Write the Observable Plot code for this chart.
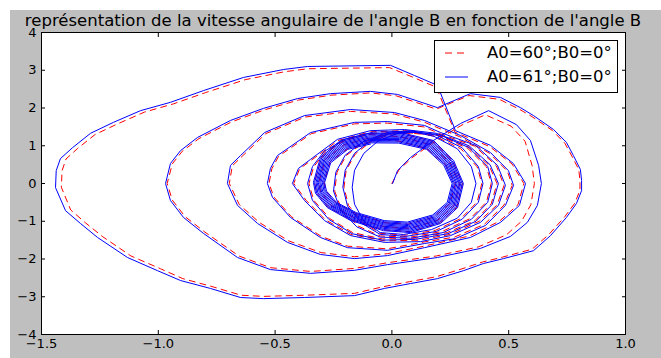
<!DOCTYPE html>
<html><head><meta charset="utf-8">
<script src="https://cdn.jsdelivr.net/npm/d3@7"></script>
<script src="https://cdn.jsdelivr.net/npm/@observablehq/plot@0.6"></script>
<style>
body{margin:0;background:#fff;}
#wrap{position:relative;width:661px;height:358px;background:#fff;overflow:hidden;font-family:"DejaVu Sans",sans-serif;}
#bg{position:absolute;left:10px;top:10px;right:0;bottom:0;background:#bfbfbf;}
#chart{position:absolute;left:0;top:0;}
#title{position:absolute;left:0;width:666px;top:13px;text-align:center;font-size:16.5px;line-height:16.5px;color:#000;white-space:nowrap;}
#legend{position:absolute;left:434px;top:40px;width:184px;height:53px;box-sizing:border-box;border:1px solid #000;background:#fff;}
.lt{position:absolute;left:52px;font-size:16.5px;line-height:16.5px;white-space:nowrap;color:#000;}
.ls{position:absolute;left:10px;}
</style>
</head><body>
<div id="wrap"><div id="bg"></div><div id="chart"></div>
<div id="title"></div>
<div id="legend"></div></div>
<script>
const titleText = "représentation de la vitesse angulaire de l'angle B en fonction de l'angle B";
const seriesNames = ["A0=60°;B0=0°", "A0=61°;B0=0°"];
const xTicks = [-1.5, -1.0, -0.5, 0, 0.5, 1.0];
const xTickLabels = ["−1.5", "−1.0", "−0.5", "0.0", "0.5", "1.0"];
const yTicks = [-4, -3, -2, -1, 0, 1, 2, 3, 4];
const yTickLabels = ["−4", "−3", "−2", "−1", "0", "1", "2", "3", "4"];

// ---- A0=61° (blue, solid) ----
const blueStart = [[0.003,0],[0.024,0.34],[0.08,0.69],[0.178,1.14],[0.294,1.59],[0.414,1.93]];
const blueL2 = [[0.533,1.56],[0.593,1.14],[0.628,0.48],[0.64,0],[0.623,-0.58],[0.58,-1.03],[0.508,-1.40],[0.379,-1.72],[0.195,-1.96],[-0.019,-2.15],[-0.16,-2.30],[-0.348,-2.38],[-0.52,-2.28],[-0.661,-1.96],[-0.807,-1.32],[-0.892,-0.90],[-0.948,-0.45],[-0.969,0],[-0.948,0.53],[-0.905,0.87],[-0.832,1.22],[-0.691,1.67],[-0.55,1.99],[-0.404,2.25],[-0.263,2.38],[-0.092,2.44],[0.024,2.36],[0.195,2.01]];
const blueL1 = [[0.336,2.38],[0.465,2.28],[0.55,2.01],[0.606,1.80],[0.692,1.43],[0.747,1.09],[0.777,0.74],[0.807,0.37],[0.812,0.08],[0.812,-0.19],[0.79,-0.53],[0.747,-0.90],[0.679,-1.38],[0.606,-1.78],[0.478,-1.99],[0.392,-2.12],[0.306,-2.31],[0.195,-2.52],[0.08,-2.65],[-0.032,-2.78],[-0.16,-2.97],[-0.374,-3.02],[-0.55,-3.05],[-0.648,-3.02],[-0.777,-2.78],[-0.905,-2.57],[-1.003,-2.31],[-1.132,-1.96],[-1.26,-1.43],[-1.333,-1.06],[-1.397,-0.72],[-1.44,-0.11],[-1.437,0.34],[-1.419,0.66],[-1.367,0.95],[-1.29,1.33],[-1.192,1.62],[-1.076,1.93],[-0.948,2.15],[-0.807,2.46],[-0.635,2.81],[-0.464,3.02],[-0.361,3.10],[-0.006,3.13],[0.097,2.86],[0.195,2.60]];
const blueL3 = [[0.272,1.40],[0.422,1.01],[0.52,0.53],[0.572,0],[0.546,-0.58],[0.465,-1.03],[0.336,-1.43],[0.139,-1.70],[-0.019,-1.91],[-0.16,-1.99],[-0.306,-1.88],[-0.447,-1.56],[-0.575,-1.06],[-0.661,-0.58],[-0.704,0],[-0.691,0.48],[-0.648,0.74],[-0.545,1.35],[-0.374,1.80],[-0.177,1.96],[0.011,1.88],[0.139,1.67]];
const blueL4 = [[0.294,1.27],[0.422,0.82],[0.499,0.34],[0.521,-0.05],[0.486,-0.58],[0.401,-1.11],[0.272,-1.46],[0.139,-1.59],[-0.019,-1.77],[-0.19,-1.70],[-0.306,-1.43],[-0.434,-0.90],[-0.511,-0.37],[-0.533,0],[-0.52,0.40],[-0.49,0.74],[-0.348,1.35],[-0.16,1.62],[-0.019,1.64],[0.139,1.54]];
const blueL5 = [[0.208,1.35],[0.358,1.01],[0.452,0.48],[0.486,-0.05],[0.456,-0.58],[0.379,-1.03],[0.251,-1.38],[0.122,-1.54],[-0.032,-1.56],[-0.177,-1.38],[-0.289,-0.98],[-0.374,-0.45],[-0.426,0],[-0.4,0.40],[-0.348,0.64],[-0.233,1.17],[-0.092,1.40],[0.054,1.43]];
const blueL6 = [[0.19,1.33],[0.33,1.0],[0.42,0.5],[0.456,0],[0.43,-0.55],[0.36,-1.0],[0.24,-1.33],[0.1,-1.48],[-0.04,-1.5],[-0.17,-1.33],[-0.27,-0.95],[-0.34,-0.45],[-0.361,0],[-0.34,0.45],[-0.29,0.85],[-0.2,1.18],[-0.08,1.36],[0.05,1.38]];
const blueIn1 = [[0.2,1.3],[0.33,0.95],[0.41,0.45],[0.43,0],[0.41,-0.5],[0.34,-0.95],[0.22,-1.3],[0.08,-1.45],[-0.05,-1.42],[-0.15,-1.15],[-0.22,-0.7],[-0.25,-0.2],[-0.24,0.3],[-0.2,0.75],[-0.12,1.12],[-0.02,1.35],[0.08,1.4]];
const blueIn2 = [[0.19,1.28],[0.3,0.95],[0.37,0.45],[0.39,0],[0.37,-0.5],[0.3,-0.95],[0.19,-1.27],[0.06,-1.4],[-0.05,-1.35],[-0.13,-1.05],[-0.19,-0.6],[-0.21,-0.1],[-0.2,0.35],[-0.16,0.8],[-0.09,1.15],[0.0,1.34],[0.09,1.37]];
const blueIn3 = [[0.18,1.25],[0.28,0.92],[0.34,0.45],[0.36,0],[0.34,-0.5],[0.28,-0.92],[0.17,-1.22],[0.05,-1.35],[-0.05,-1.3],[-0.12,-1.0],[-0.16,-0.55],[-0.17,-0.1],[-0.16,0.35],[-0.12,0.8],[-0.06,1.12],[0.02,1.32],[0.1,1.36]];
// dense ring band, read from outer edge to inner edge, each loop starting at its top
const blueR0 = [[0.037,1.35],[0.178,1.14],[0.264,0.61],[0.306,0],[0.281,-0.64],[0.208,-1.06],[0.08,-1.30],[-0.036,-1.25],[-0.177,-0.98],[-0.276,-0.64],[-0.327,-0.26],[-0.336,0.03],[-0.306,0.69],[-0.22,1.14],[-0.104,1.32]];
const blueR1 = [[0.036,1.319],[0.175,1.114],[0.259,0.596],[0.301,0.0],[0.276,-0.625],[0.204,-1.035],[0.078,-1.27],[-0.036,-1.221],[-0.174,-0.957],[-0.272,-0.625],[-0.322,-0.254],[-0.331,0.03],[-0.301,0.675],[-0.217,1.114],[-0.103,1.29]];
const blueR2 = [[0.035,1.287],[0.172,1.087],[0.255,0.582],[0.295,0.001],[0.271,-0.609],[0.201,-1.009],[0.077,-1.238],[-0.035,-1.19],[-0.172,-0.933],[-0.267,-0.609],[-0.317,-0.247],[-0.325,0.03],[-0.296,0.659],[-0.213,1.087],[-0.101,1.259]];
const blueR3 = [[0.034,1.257],[0.168,1.062],[0.25,0.569],[0.29,0.001],[0.266,-0.594],[0.197,-0.984],[0.075,-1.208],[-0.035,-1.161],[-0.169,-0.91],[-0.263,-0.594],[-0.311,-0.24],[-0.32,0.029],[-0.291,0.643],[-0.21,1.062],[-0.1,1.229]];
const blueR4 = [[0.034,1.226],[0.165,1.036],[0.245,0.555],[0.285,0.002],[0.261,-0.579],[0.193,-0.96],[0.074,-1.177],[-0.035,-1.132],[-0.166,-0.887],[-0.259,-0.579],[-0.306,-0.234],[-0.315,0.029],[-0.287,0.628],[-0.206,1.036],[-0.098,1.199]];
const blueR5 = [[0.033,1.194],[0.162,1.009],[0.241,0.541],[0.279,0.002],[0.256,-0.563],[0.19,-0.934],[0.072,-1.146],[-0.034,-1.101],[-0.164,-0.863],[-0.254,-0.563],[-0.301,-0.227],[-0.309,0.029],[-0.282,0.612],[-0.203,1.009],[-0.097,1.168]];
const blueR6 = [[0.032,1.164],[0.159,0.983],[0.236,0.527],[0.274,0.003],[0.251,-0.548],[0.186,-0.909],[0.071,-1.115],[-0.034,-1.072],[-0.161,-0.84],[-0.25,-0.548],[-0.296,-0.221],[-0.304,0.029],[-0.277,0.596],[-0.2,0.983],[-0.095,1.138]];
const blueR7 = [[0.031,1.133],[0.155,0.957],[0.231,0.514],[0.268,0.003],[0.246,-0.532],[0.182,-0.884],[0.069,-1.085],[-0.034,-1.043],[-0.158,-0.817],[-0.245,-0.532],[-0.29,-0.214],[-0.298,0.028],[-0.272,0.581],[-0.196,0.957],[-0.094,1.108]];
const blueR8 = [[0.03,1.101],[0.152,0.931],[0.227,0.5],[0.263,0.004],[0.242,-0.517],[0.178,-0.858],[0.067,-1.053],[-0.033,-1.013],[-0.155,-0.793],[-0.241,-0.517],[-0.285,-0.208],[-0.293,0.028],[-0.267,0.565],[-0.193,0.931],[-0.092,1.077]];
const blueR9 = [[0.029,1.071],[0.149,0.905],[0.222,0.486],[0.258,0.004],[0.237,-0.501],[0.175,-0.833],[0.066,-1.023],[-0.033,-0.983],[-0.153,-0.77],[-0.237,-0.501],[-0.28,-0.201],[-0.288,0.028],[-0.262,0.549],[-0.189,0.905],[-0.091,1.047]];

// ---- A0=60° (red, dashed) ----
const redStart = [[0.0,0],[0.03,0.36],[0.09,0.70],[0.185,1.12],[0.30,1.55],[0.40,1.82]];
const redL2 = [[0.51,1.52],[0.57,1.12],[0.60,0.48],[0.61,0],[0.595,-0.56],[0.555,-1.0],[0.49,-1.36],[0.37,-1.68],[0.19,-1.92],[-0.02,-2.10],[-0.16,-2.25],[-0.348,-2.33],[-0.52,-2.23],[-0.655,-1.92],[-0.80,-1.29],[-0.885,-0.88],[-0.94,-0.44],[-0.962,0],[-0.94,0.52],[-0.898,0.85],[-0.826,1.19],[-0.687,1.63],[-0.546,1.95],[-0.40,2.21],[-0.26,2.34],[-0.09,2.40],[0.02,2.32],[0.19,1.97]];
const redL1 = [[0.33,2.33],[0.46,2.23],[0.545,1.97],[0.60,1.77],[0.686,1.41],[0.74,1.07],[0.77,0.73],[0.80,0.37],[0.805,0.08],[0.805,-0.18],[0.783,-0.52],[0.74,-0.88],[0.672,-1.35],[0.60,-1.74],[0.474,-1.95],[0.388,-2.08],[0.30,-2.26],[0.19,-2.47],[0.076,-2.60],[-0.034,-2.73],[-0.16,-2.91],[-0.374,-2.96],[-0.55,-2.99],[-0.645,-2.96],[-0.77,-2.73],[-0.895,-2.52],[-0.99,-2.26],[-1.117,-1.92],[-1.24,-1.40],[-1.312,-1.04],[-1.375,-0.70],[-1.415,-0.10],[-1.412,0.34],[-1.395,0.65],[-1.345,0.93],[-1.27,1.30],[-1.174,1.58],[-1.06,1.89],[-0.935,2.11],[-0.797,2.41],[-0.628,2.75],[-0.46,2.96],[-0.36,3.04],[-0.01,3.07],[0.092,2.81],[0.19,2.55]];
const redL3 = [[0.27,1.36],[0.418,0.98],[0.514,0.52],[0.565,0],[0.54,-0.56],[0.46,-1.0],[0.332,-1.39],[0.137,-1.66],[-0.02,-1.86],[-0.16,-1.94],[-0.303,-1.83],[-0.442,-1.52],[-0.568,-1.03],[-0.653,-0.56],[-0.696,0],[-0.683,0.47],[-0.641,0.72],[-0.54,1.32],[-0.372,1.76],[-0.177,1.91],[0.01,1.84],[0.136,1.63]];
const redL4 = [[0.29,1.24],[0.418,0.80],[0.494,0.33],[0.515,-0.05],[0.48,-0.57],[0.396,-1.08],[0.268,-1.42],[0.137,-1.55],[-0.02,-1.73],[-0.19,-1.66],[-0.303,-1.40],[-0.43,-0.88],[-0.505,-0.36],[-0.526,0],[-0.514,0.39],[-0.485,0.72],[-0.345,1.32],[-0.16,1.58],[-0.02,1.60],[0.137,1.50]];
const redL5 = [[0.205,1.32],[0.354,0.99],[0.447,0.47],[0.48,-0.05],[0.45,-0.57],[0.374,-1.0],[0.248,-1.35],[0.12,-1.50],[-0.032,-1.52],[-0.175,-1.35],[-0.285,-0.96],[-0.368,-0.44],[-0.42,0],[-0.395,0.39],[-0.344,0.62],[-0.23,1.14],[-0.092,1.37],[0.054,1.40]];
const redL6 = [[0.188,1.30],[0.326,0.98],[0.415,0.49],[0.45,0],[0.425,-0.54],[0.356,-0.98],[0.237,-1.30],[0.1,-1.45],[-0.04,-1.47],[-0.168,-1.30],[-0.266,-0.93],[-0.335,-0.44],[-0.355,0],[-0.335,0.44],[-0.286,0.83],[-0.198,1.15],[-0.08,1.33],[0.05,1.35]];
const redIn1 = [[0.2,1.27],[0.325,0.93],[0.405,0.44],[0.425,0],[0.405,-0.49],[0.335,-0.93],[0.215,-1.27],[0.08,-1.42],[-0.05,-1.39],[-0.147,-1.12],[-0.216,-0.68],[-0.245,-0.2],[-0.235,0.3],[-0.196,0.74],[-0.118,1.1],[-0.02,1.32],[0.08,1.37]];
const redIn2 = [[0.185,1.25],[0.295,0.92],[0.365,0.44],[0.385,0],[0.365,-0.49],[0.295,-0.93],[0.186,-1.24],[0.06,-1.37],[-0.05,-1.32],[-0.127,-1.02],[-0.186,-0.58],[-0.205,-0.1],[-0.196,0.35],[-0.157,0.78],[-0.088,1.12],[0.0,1.31],[0.09,1.34]];
const redR0 = [[0.036,1.33],[0.175,1.12],[0.26,0.60],[0.302,0],[0.278,-0.63],[0.205,-1.04],[0.079,-1.28],[-0.035,-1.23],[-0.175,-0.96],[-0.272,-0.63],[-0.322,-0.25],[-0.331,0.03],[-0.302,0.68],[-0.217,1.12],[-0.102,1.30]];
const redR1 = [[0.034,1.24],[0.162,1.03],[0.248,0.56],[0.29,0],[0.266,-0.59],[0.195,-0.98],[0.075,-1.19],[-0.033,-1.14],[-0.164,-0.90],[-0.257,-0.59],[-0.305,-0.23],[-0.313,0.03],[-0.285,0.64],[-0.204,1.03],[-0.095,1.21]];
const redR2 = [[0.031,1.12],[0.147,0.93],[0.23,0.5],[0.272,0],[0.249,-0.53],[0.18,-0.89],[0.069,-1.08],[-0.03,-1.04],[-0.15,-0.81],[-0.236,-0.53],[-0.282,-0.2],[-0.29,0.03],[-0.264,0.58],[-0.187,0.93],[-0.087,1.10]];

const blueSeries = [blueStart, blueL2, blueL1, blueL3, blueL4, blueL5, blueL6, blueIn1, blueIn2, blueIn3,
  blueR0, blueR1, blueR2, blueR3, blueR4, blueR5, blueR6, blueR7, blueR8, blueR9].flat();
const redSeries = [redStart, redL2, redL1, redL3, redL4, redL5, redL6, redIn1, redIn2, redR0, redR1, redR2].flat();

const xLab = d => xTickLabels[xTicks.findIndex(t => Math.abs(t - d) < 1e-9)];
const yLab = d => yTickLabels[yTicks.findIndex(t => Math.abs(t - d) < 1e-9)];

const chart = Plot.plot({
  width: 661, height: 358,
  marginLeft: 41, marginRight: 36, marginTop: 32, marginBottom: 24,
  style: {background: "transparent", fontFamily: "DejaVu Sans, sans-serif", fontSize: "13px", color: "#000", overflow: "visible"},
  x: {domain: [-1.5, 1.0], label: null},
  y: {domain: [-4, 4], label: null},
  marks: [
    Plot.frame({fill: "white", stroke: "none"}),
    Plot.line(redSeries, {x: d => d[0], y: d => d[1], stroke: "#ff0000", strokeWidth: 1, strokeDasharray: "6,5"}),
    Plot.line(blueSeries, {x: d => d[0], y: d => d[1], stroke: "#0000ff", strokeWidth: 1}),
    Plot.frame({stroke: "#000", strokeWidth: 1}),
    Plot.axisX({anchor: "bottom", ticks: xTicks, tickSize: -4, tickFormat: () => "", label: null}),
    Plot.axisX({anchor: "top", ticks: xTicks, tickSize: -4, tickFormat: () => "", label: null}),
    Plot.axisY({anchor: "left", ticks: yTicks, tickSize: -4, tickFormat: () => "", label: null}),
    Plot.axisY({anchor: "right", ticks: yTicks, tickSize: -4, tickFormat: () => "", label: null}),
    Plot.axisX({anchor: "bottom", ticks: xTicks, tickSize: 0, tickPadding: 4, tickFormat: xLab, label: null, fontSize: 13}),
    Plot.axisY({anchor: "left", ticks: yTicks, tickSize: 0, tickPadding: 5, tickFormat: yLab, label: null, fontSize: 13})
  ]
});
document.getElementById("chart").appendChild(chart);
document.getElementById("title").textContent = titleText;

const legend = document.getElementById("legend");
const rows = [
  {name: seriesNames[0], color: "#ff0000", dash: true, top: 4, lineY: 12},
  {name: seriesNames[1], color: "#0000ff", dash: false, top: 28, lineY: 36}
];
rows.forEach(r => {
  const s = document.createElementNS("http://www.w3.org/2000/svg", "svg");
  s.setAttribute("class", "ls");
  s.setAttribute("width", "24"); s.setAttribute("height", "4");
  s.style.top = (r.lineY - 2) + "px";
  const l = document.createElementNS("http://www.w3.org/2000/svg", "line");
  l.setAttribute("x1", "0"); l.setAttribute("x2", "23"); l.setAttribute("y1", "2"); l.setAttribute("y2", "2");
  l.setAttribute("stroke", r.color); l.setAttribute("stroke-width", "1");
  if (r.dash) l.setAttribute("stroke-dasharray", "7,5");
  s.appendChild(l);
  legend.appendChild(s);
  const t = document.createElement("div");
  t.className = "lt"; t.style.top = r.top + "px"; t.textContent = r.name;
  legend.appendChild(t);
});
</script>
</body></html>
